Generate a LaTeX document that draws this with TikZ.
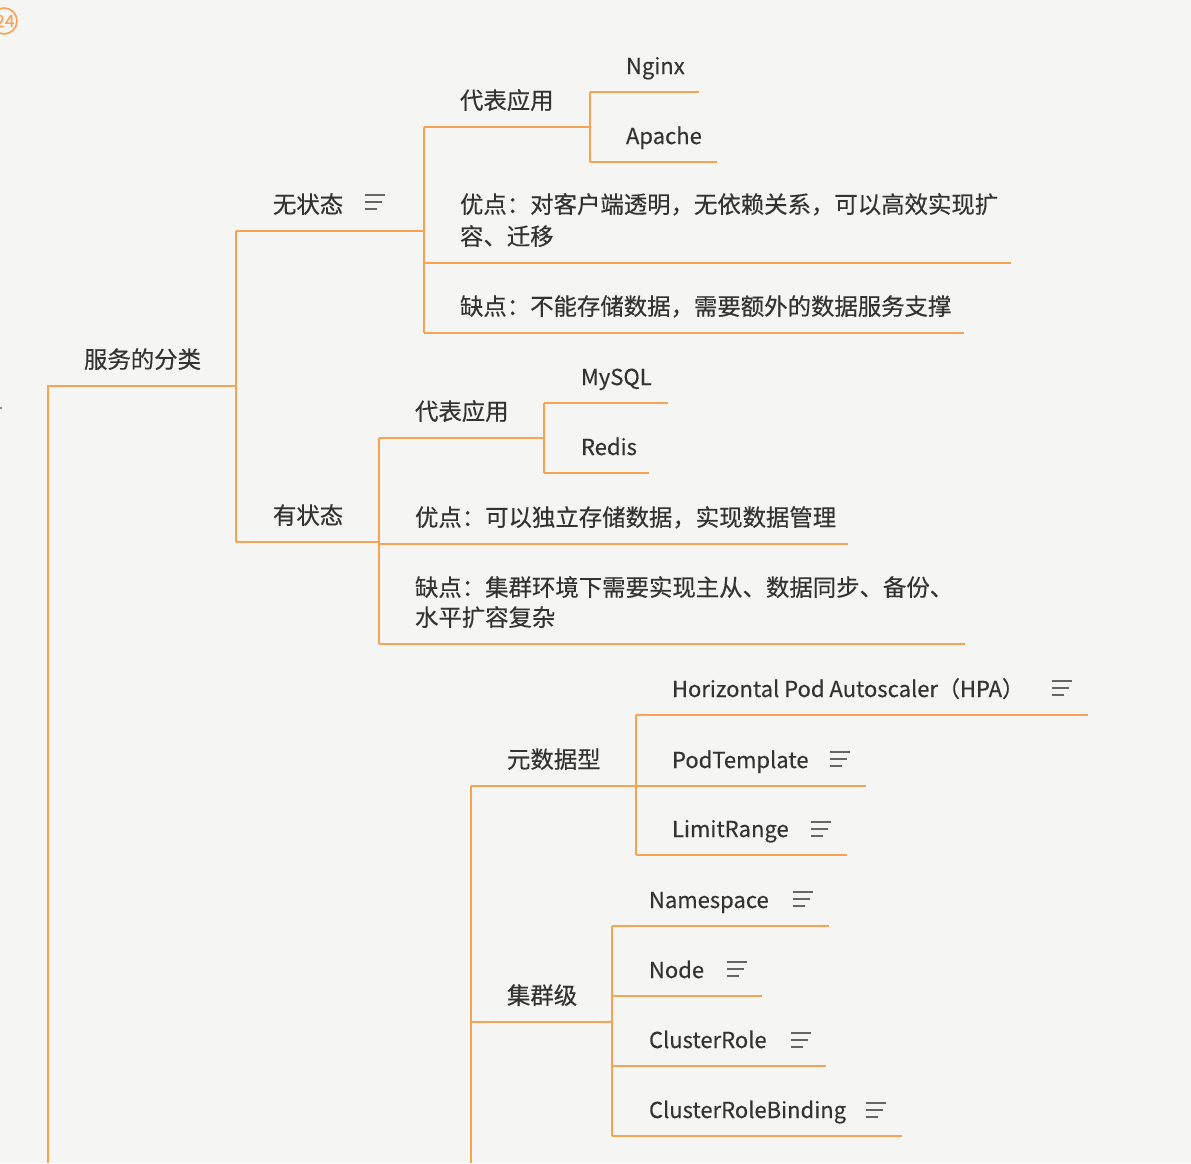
\documentclass[tikz,border=0pt]{standalone}
\usepackage{fontspec}
\setmainfont{Noto Sans CJK SC}[FakeBold=0.35]
\definecolor{bgc}{HTML}{F5F5F3}
\definecolor{brc}{HTML}{F7A254}
\definecolor{txc}{HTML}{333333}
\definecolor{icc}{HTML}{666666}
\tikzset{
  branch/.style={draw=brc, line width=2.7pt},
  topic/.style={anchor=base west, inner sep=0pt, outer sep=0pt, text=txc,
    font=\fontsize{23.4}{31}\selectfont, align=left},
  lat/.style={topic, font=\fontsize{22}{30}\selectfont},
  noteicon/.pic={\draw[icc, line width=2.2pt] (0,-7)--(20,-7) (0,0)--(17,0) (0,7)--(12,7);}
}
\begin{document}
\begin{tikzpicture}[x=1pt,y=-1pt]
\fill[bgc] (0,0) rectangle (1191,1163);
\useasboundingbox (0,0) rectangle (1191,1163);

% top-left marker
\draw[brc, line width=1.6pt] (4,21) circle (13);
\node[text=brc, inner sep=0pt, font=\fontsize{17}{17}\selectfont] (mark) at (5,21) {24};
\fill[icc] (1,408) circle (1.2);

% ---------- root ----------
\node[topic] (root) at (84,368) {服务的分类};
\coordinate (rootL) at (48,386);
\coordinate (rootR) at (236,386);
\coordinate (rootB) at (48,1163);
\draw[branch] (rootB) -- (rootL) -- (rootR);

% ---------- 无状态 ----------
\node[topic] (s1) at (273,213) {无状态};
\pic at (365,202) {noteicon};
\coordinate (s1L) at (236,231);
\coordinate (s1R) at (424,231);
\draw[branch] (s1L) -- (s1R);

\node[topic] (a1) at (460,109) {代表应用};
\coordinate (a1L) at (424,127);
\coordinate (a1R) at (590,127);
\draw[branch] (a1L) -- (a1R);

\node[lat] (ngx) at (626,74) {Nginx};
\coordinate (ngxL) at (590,92);
\coordinate (ngxR) at (699,92);
\draw[branch] (ngxL) -- (ngxR);

\node[lat] (apc) at (626,144) {Apache};
\coordinate (apcL) at (590,162);
\coordinate (apcR) at (717,162);
\draw[branch] (apcL) -- (apcR);

\node[topic, font=\fontsize{23.4}{32}\selectfont] (p1) at (460,245) {优点：对客户端透明，无依赖关系，可以高效实现扩\\容、迁移};
\coordinate (p1L) at (424,263);
\coordinate (p1R) at (1011,263);
\draw[branch] (p1L) -- (p1R);

\node[topic] (c1) at (460,315) {缺点：不能存储数据，需要额外的数据服务支撑};
\coordinate (c1L) at (424,333);
\coordinate (c1R) at (964,333);
\draw[branch] (c1L) -- (c1R);

% ---------- 有状态 ----------
\node[topic] (s2) at (273,524) {有状态};
\coordinate (s2L) at (236,542);
\coordinate (s2R) at (379,542);
\draw[branch] (s2L) -- (s2R);

\node[topic] (a2) at (415,420) {代表应用};
\coordinate (a2L) at (379,438);
\coordinate (a2R) at (544,438);
\draw[branch] (a2L) -- (a2R);

\node[lat] (mys) at (581,385) {MySQL};
\coordinate (mysL) at (544,403);
\coordinate (mysR) at (668,403);
\draw[branch] (mysL) -- (mysR);

\node[lat] (rds) at (581,455) {Redis};
\coordinate (rdsL) at (544,473);
\coordinate (rdsR) at (649,473);
\draw[branch] (rdsL) -- (rdsR);

\node[topic] (p2) at (415,526) {优点：可以独立存储数据，实现数据管理};
\coordinate (p2L) at (379,544);
\coordinate (p2R) at (848,544);
\draw[branch] (p2L) -- (p2R);

\node[topic, font=\fontsize{23.4}{30}\selectfont] (c2) at (415,626) {缺点：集群环境下需要实现主从、数据同步、备份、\\水平扩容复杂};
\coordinate (c2L) at (379,644);
\coordinate (c2R) at (965,644);
\draw[branch] (c2L) -- (c2R);

% ---------- bottom branch ----------
\coordinate (kB) at (471,1163);

\node[topic] (m) at (507,768) {元数据型};
\coordinate (mL) at (471,786);
\coordinate (mR) at (636,786);
\draw[branch] (mL) -- (mR);

\node[lat] (hpa) at (672,697) {Horizontal Pod Autoscaler（HPA）};
\pic at (1052,688) {noteicon};
\coordinate (hpaL) at (636,715);
\coordinate (hpaR) at (1088,715);
\draw[branch] (hpaL) -- (hpaR);

\node[lat] (pt) at (672,768) {PodTemplate};
\pic at (830,759) {noteicon};
\coordinate (ptL) at (636,786);
\coordinate (ptR) at (866,786);
\draw[branch] (ptL) -- (ptR);

\node[lat] (lr) at (672,837) {LimitRange};
\pic at (811,829) {noteicon};
\coordinate (lrL) at (636,855);
\coordinate (lrR) at (847,855);
\draw[branch] (lrL) -- (lrR);

\node[topic] (cl) at (507,1004) {集群级};
\coordinate (clL) at (471,1022);
\coordinate (clR) at (612,1022);
\draw[branch] (clL) -- (clR);

\node[lat] (ns) at (649,908) {Namespace};
\pic at (793,899) {noteicon};
\coordinate (nsL) at (612,926);
\coordinate (nsR) at (829,926);
\draw[branch] (nsL) -- (nsR);

\node[lat] (nd) at (649,978) {Node};
\pic at (727,969) {noteicon};
\coordinate (ndL) at (612,996);
\coordinate (ndR) at (762,996);
\draw[branch] (ndL) -- (ndR);

\node[lat] (cr) at (649,1048) {ClusterRole};
\pic at (791,1040) {noteicon};
\coordinate (crL) at (612,1066);
\coordinate (crR) at (826,1066);
\draw[branch] (crL) -- (crR);

\node[lat] (crb) at (649,1118) {ClusterRoleBinding};
\pic at (866,1110) {noteicon};
\coordinate (crbL) at (612,1136);
\coordinate (crbR) at (902,1136);
\draw[branch] (crbL) -- (crbR);

% ---------- vertical connectors ----------
\draw[branch] (s1L) -- (s2L);
\draw[branch] (a1L) -- (c1L);
\draw[branch] (ngxL) -- (apcL);
\draw[branch] (a2L) -- (c2L);
\draw[branch] (mysL) -- (rdsL);
\draw[branch] (mL) -- (kB);
\draw[branch] (hpaL) -- (lrL);
\draw[branch] (nsL) -- (crbL);
\end{tikzpicture}
\end{document}
